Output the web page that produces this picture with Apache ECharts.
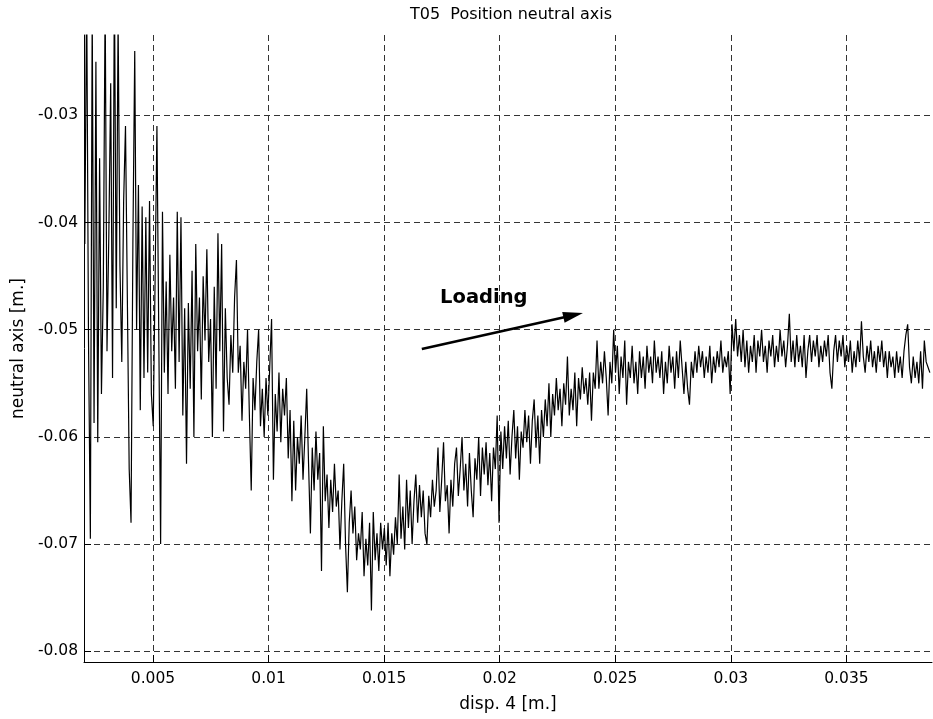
<!DOCTYPE html>
<html>
<head>
<meta charset="utf-8">
<title>T05 Position neutral axis</title>
<script src="https://cdn.jsdelivr.net/npm/echarts@6.0.0/dist/echarts.min.js"></script>
<style>
  html, body { margin: 0; padding: 0; background: #fff; }
  #chart { width: 933px; height: 719px; }
</style>
</head>
<body>
<div id="chart"></div>
<script>
// Displacement of sensor 4 [m]
const disp = [
  0.00205,0.00213,0.00221,0.00229,0.00237,0.00245,0.00253,0.00261,0.00269,0.00277,
  0.00285,0.00293,0.00301,0.00309,0.00317,0.00325,0.00333,0.00341,0.00349,0.00357,
  0.00365,0.00373,0.00381,0.00389,0.00397,0.00405,0.00413,0.00421,0.00429,0.00437,
  0.00445,0.00453,0.00461,0.00469,0.00477,0.00485,0.00493,0.00501,0.00509,0.00517,
  0.00525,0.00533,0.00541,0.00549,0.00557,0.00565,0.00573,0.00581,0.00589,0.00597,
  0.00605,0.00613,0.00621,0.00629,0.00637,0.00645,0.00653,0.00661,0.00669,0.00677,
  0.00685,0.00693,0.00701,0.00709,0.00717,0.00725,0.00733,0.00741,0.00749,0.00757,
  0.00765,0.00773,0.00781,0.00789,0.00797,0.00805,0.00813,0.00821,0.00829,0.00837,
  0.00845,0.00853,0.00861,0.00869,0.00877,0.00885,0.00893,0.00901,0.00909,0.00917,
  0.00925,0.00933,0.00941,0.00949,0.00957,0.00965,0.00973,0.00981,0.00989,0.00997,
  0.01005,0.01013,0.01021,0.01029,0.01037,0.01045,0.01053,0.01061,0.01069,0.01077,
  0.01085,0.01093,0.01101,0.01109,0.01117,0.01125,0.01133,0.01141,0.01149,0.01157,
  0.01165,0.01173,0.01181,0.01189,0.01197,0.01205,0.01213,0.01221,0.01229,0.01237,
  0.01245,0.01253,0.01261,0.01269,0.01277,0.01285,0.01293,0.01301,0.01309,0.01317,
  0.01325,0.01333,0.01341,0.01349,0.01357,0.01365,0.01373,0.01381,0.01389,0.01397,
  0.01405,0.01413,0.01421,0.01429,0.01437,0.01445,0.01453,0.01461,0.01469,0.01477,
  0.01485,0.01493,0.01501,0.01509,0.01517,0.01525,0.01533,0.01541,0.01549,0.01557,
  0.01565,0.01573,0.01581,0.01589,0.01597,0.01605,0.01613,0.01621,0.01629,0.01637,
  0.01645,0.01653,0.01661,0.01669,0.01677,0.01685,0.01693,0.01701,0.01709,0.01717,
  0.01725,0.01733,0.01741,0.01749,0.01757,0.01765,0.01773,0.01781,0.01789,0.01797,
  0.01805,0.01813,0.01821,0.01829,0.01837,0.01845,0.01853,0.01861,0.01869,0.01877,
  0.01885,0.01893,0.01901,0.01909,0.01917,0.01925,0.01933,0.01941,0.01949,0.01957,
  0.01965,0.01973,0.01981,0.01989,0.01997,0.02005,0.02013,0.02021,0.02029,0.02037,
  0.02045,0.02053,0.02061,0.02069,0.02077,0.02085,0.02093,0.02101,0.02109,0.02117,
  0.02125,0.02133,0.02141,0.02149,0.02157,0.02165,0.02173,0.02181,0.02189,0.02197,
  0.02205,0.02213,0.02221,0.02229,0.02237,0.02245,0.02253,0.02261,0.02269,0.02277,
  0.02285,0.02293,0.02301,0.02309,0.02317,0.02325,0.02333,0.02341,0.02349,0.02357,
  0.02365,0.02373,0.02381,0.02389,0.02397,0.02405,0.02413,0.02421,0.02429,0.02437,
  0.02445,0.02453,0.02461,0.02469,0.02477,0.02485,0.02493,0.02501,0.02509,0.02517,
  0.02525,0.02533,0.02541,0.02549,0.02557,0.02565,0.02573,0.02581,0.02589,0.02597,
  0.02605,0.02613,0.02621,0.02629,0.02637,0.02645,0.02653,0.02661,0.02669,0.02677,
  0.02685,0.02693,0.02701,0.02709,0.02717,0.02725,0.02733,0.02741,0.02749,0.02757,
  0.02765,0.02773,0.02781,0.02789,0.02797,0.02805,0.02813,0.02821,0.02829,0.02837,
  0.02845,0.02853,0.02861,0.02869,0.02877,0.02885,0.02893,0.02901,0.02909,0.02917,
  0.02925,0.02933,0.02941,0.02949,0.02957,0.02965,0.02973,0.02981,0.02989,0.02997,
  0.03005,0.03013,0.03021,0.03029,0.03037,0.03045,0.03053,0.03061,0.03069,0.03077,
  0.03085,0.03093,0.03101,0.03109,0.03117,0.03125,0.03133,0.03141,0.03149,0.03157,
  0.03165,0.03173,0.03181,0.03189,0.03197,0.03205,0.03213,0.03221,0.03229,0.03237,
  0.03245,0.03253,0.03261,0.03269,0.03277,0.03285,0.03293,0.03301,0.03309,0.03317,
  0.03325,0.03333,0.03341,0.03349,0.03357,0.03365,0.03373,0.03381,0.03389,0.03397,
  0.03405,0.03413,0.03421,0.03429,0.03437,0.03445,0.03453,0.03461,0.03469,0.03477,
  0.03485,0.03493,0.03501,0.03509,0.03517,0.03525,0.03533,0.03541,0.03549,0.03557,
  0.03565,0.03573,0.03581,0.03589,0.03597,0.03605,0.03613,0.03621,0.03629,0.03637,
  0.03645,0.03653,0.03661,0.03669,0.03677,0.03685,0.03693,0.03701,0.03709,0.03717,
  0.03725,0.03733,0.03741,0.03749,0.03757,0.03765,0.03773,0.03781,0.03789,0.03797,
  0.03805,0.03813,0.03821,0.03829,0.03837,0.03845,0.03853,0.03861
];

// Position of the neutral axis [m] at each displacement step
const neutralAxis = [
  -0.0420,-0.0180,-0.0510,-0.0695,-0.0200,-0.0587,-0.0250,-0.0605,-0.0340,-0.0560,
  -0.0460,-0.0190,-0.0520,-0.0410,-0.0270,-0.0545,-0.0170,-0.0480,-0.0210,-0.0440,
  -0.0530,-0.0380,-0.0310,-0.0470,-0.0630,-0.0680,-0.0420,-0.0240,-0.0500,-0.0365,
  -0.0575,-0.0385,-0.0545,-0.0395,-0.0540,-0.0380,-0.0560,-0.0590,-0.0455,-0.0310,
  -0.0505,-0.0700,-0.0390,-0.0540,-0.0455,-0.0560,-0.0430,-0.0520,-0.0470,-0.0555,
  -0.0390,-0.0530,-0.0395,-0.0580,-0.0480,-0.0625,-0.0475,-0.0555,-0.0445,-0.0600,
  -0.0420,-0.0520,-0.0470,-0.0565,-0.0450,-0.0510,-0.0425,-0.0530,-0.0490,-0.0600,
  -0.0460,-0.0555,-0.0410,-0.0520,-0.0420,-0.0595,-0.0480,-0.0545,-0.0570,-0.0505,
  -0.0540,-0.0470,-0.0435,-0.0540,-0.0515,-0.0585,-0.0530,-0.0555,-0.0500,-0.0580,
  -0.0650,-0.0545,-0.0575,-0.0530,-0.0500,-0.0590,-0.0555,-0.0600,-0.0545,-0.0580,
  -0.0535,-0.0490,-0.0640,-0.0560,-0.0595,-0.0540,-0.0605,-0.0555,-0.0580,-0.0545,
  -0.0620,-0.0575,-0.0660,-0.0585,-0.0650,-0.0600,-0.0625,-0.0580,-0.0640,-0.0600,
  -0.0555,-0.0625,-0.0690,-0.0610,-0.0650,-0.0595,-0.0640,-0.0615,-0.0725,-0.0590,
  -0.0660,-0.0635,-0.0685,-0.0640,-0.0670,-0.0625,-0.0665,-0.0650,-0.0705,-0.0660,
  -0.0625,-0.0700,-0.0745,-0.0680,-0.0650,-0.0690,-0.0665,-0.0715,-0.0690,-0.0705,
  -0.0670,-0.0730,-0.0695,-0.0720,-0.0680,-0.0762,-0.0670,-0.0715,-0.0690,-0.0725,
  -0.0680,-0.0705,-0.0685,-0.0720,-0.0680,-0.0730,-0.0690,-0.0710,-0.0675,-0.0700,
  -0.0635,-0.0695,-0.0665,-0.0705,-0.0640,-0.0685,-0.0650,-0.0700,-0.0660,-0.0635,
  -0.0680,-0.0645,-0.0675,-0.0650,-0.0690,-0.0700,-0.0655,-0.0675,-0.0640,-0.0665,
  -0.0650,-0.0610,-0.0670,-0.0640,-0.0605,-0.0660,-0.0645,-0.0690,-0.0640,-0.0665,
  -0.0625,-0.0610,-0.0655,-0.0630,-0.0600,-0.0650,-0.0625,-0.0665,-0.0615,-0.0650,
  -0.0675,-0.0620,-0.0640,-0.0600,-0.0655,-0.0610,-0.0635,-0.0605,-0.0645,-0.0615,
  -0.0660,-0.0610,-0.0630,-0.0580,-0.0680,-0.0595,-0.0630,-0.0590,-0.0620,-0.0585,
  -0.0635,-0.0600,-0.0575,-0.0620,-0.0590,-0.0640,-0.0595,-0.0610,-0.0575,-0.0605,
  -0.0580,-0.0625,-0.0585,-0.0565,-0.0610,-0.0580,-0.0625,-0.0575,-0.0600,-0.0565,
  -0.0590,-0.0550,-0.0600,-0.0560,-0.0580,-0.0545,-0.0575,-0.0555,-0.0590,-0.0550,
  -0.0570,-0.0525,-0.0580,-0.0555,-0.0575,-0.0540,-0.0590,-0.0545,-0.0565,-0.0535,
  -0.0560,-0.0545,-0.0570,-0.0540,-0.0585,-0.0540,-0.0555,-0.0510,-0.0555,-0.0530,
  -0.0550,-0.0520,-0.0545,-0.0580,-0.0530,-0.0550,-0.0500,-0.0540,-0.0515,-0.0560,
  -0.0525,-0.0545,-0.0510,-0.0570,-0.0530,-0.0545,-0.0515,-0.0550,-0.0530,-0.0560,
  -0.0520,-0.0545,-0.0525,-0.0555,-0.0515,-0.0540,-0.0525,-0.0550,-0.0510,-0.0540,
  -0.0525,-0.0545,-0.0520,-0.0560,-0.0530,-0.0550,-0.0515,-0.0540,-0.0525,-0.0555,
  -0.0520,-0.0545,-0.0510,-0.0535,-0.0560,-0.0530,-0.0555,-0.0570,-0.0530,-0.0545,
  -0.0520,-0.0540,-0.0515,-0.0535,-0.0520,-0.0545,-0.0525,-0.0540,-0.0515,-0.0550,
  -0.0525,-0.0540,-0.0520,-0.0535,-0.0510,-0.0540,-0.0525,-0.0535,-0.0520,-0.0560,
  -0.0495,-0.0520,-0.0490,-0.0525,-0.0505,-0.0530,-0.0500,-0.0535,-0.0510,-0.0540,
  -0.0515,-0.0530,-0.0505,-0.0540,-0.0510,-0.0525,-0.0500,-0.0530,-0.0515,-0.0540,
  -0.0510,-0.0525,-0.0505,-0.0535,-0.0515,-0.0530,-0.0500,-0.0525,-0.0510,-0.0535,
  -0.0515,-0.0485,-0.0530,-0.0510,-0.0535,-0.0505,-0.0530,-0.0515,-0.0535,-0.0505,
  -0.0545,-0.0520,-0.0505,-0.0530,-0.0510,-0.0525,-0.0505,-0.0535,-0.0515,-0.0530,
  -0.0510,-0.0525,-0.0505,-0.0540,-0.0555,-0.0520,-0.0505,-0.0530,-0.0510,-0.0525,
  -0.0505,-0.0535,-0.0515,-0.0530,-0.0510,-0.0540,-0.0520,-0.0535,-0.0510,-0.0530,
  -0.0492,-0.0525,-0.0540,-0.0515,-0.0530,-0.0510,-0.0535,-0.0520,-0.0540,-0.0515,
  -0.0530,-0.0510,-0.0535,-0.0520,-0.0545,-0.0520,-0.0535,-0.0525,-0.0545,-0.0520,
  -0.0540,-0.0525,-0.0545,-0.0520,-0.0505,-0.0495,-0.0535,-0.0550,-0.0525,-0.0545,
  -0.0530,-0.0550,-0.0520,-0.0555,-0.0510,-0.0530,-0.0535,-0.0540
];

// Axis ranges and tick spacing
const xRange = [0.002015, 0.038702];
const yRange = [-0.0810, -0.0225];
const xTickStep = 0.005;
const yTickStep = 0.01;

// "Loading" annotation, in data units
const loadingLabelAt = [0.01742, -0.04705];
const loadingArrowFrom = [0.01663, -0.0518];
const loadingArrowTo = [0.02360, -0.04844];

const seriesData = disp.map((d, i) => [d, neutralAxis[i]]);

const chart = echarts.init(document.getElementById('chart'), null, { renderer: 'canvas' });

const gridDash = { color: '#333', width: 1, type: [6, 4] };

const option = {
  backgroundColor: '#ffffff',
  animation: false,
  title: {
    text: 'T05  Position neutral axis',
    left: 405,
    top: 2,
    textStyle: { fontFamily: 'DejaVu Sans', fontSize: 16, fontWeight: 'normal', color: '#000' }
  },
  grid: { left: 84, right: 1, top: 35, bottom: 57, containLabel: false },
  xAxis: {
    type: 'value',
    min: xRange[0],
    max: xRange[1],
    splitNumber: 7,
    minInterval: xTickStep,
    maxInterval: xTickStep,
    name: 'disp. 4 [m.]',
    nameLocation: 'middle',
    nameGap: 34,
    nameTextStyle: { fontFamily: 'DejaVu Sans', fontSize: 17, color: '#000' },
    axisLine: { show: true, onZero: false, lineStyle: { color: '#000', width: 1 } },
    axisTick: { show: true, inside: true, length: 7, lineStyle: { color: '#000' } },
    axisLabel: {
      showMinLabel: false, showMaxLabel: false, margin: 9,
      fontFamily: 'DejaVu Sans', fontSize: 15.5, color: '#000'
    },
    splitLine: { show: true, showMinLine: false, showMaxLine: false, lineStyle: gridDash }
  },
  yAxis: {
    type: 'value',
    min: yRange[0],
    max: yRange[1],
    splitNumber: 6,
    minInterval: yTickStep,
    maxInterval: yTickStep,
    name: 'neutral axis [m.]',
    nameLocation: 'middle',
    nameGap: 56,
    nameTextStyle: { fontFamily: 'DejaVu Sans', fontSize: 17, color: '#000' },
    axisLine: { show: true, onZero: false, lineStyle: { color: '#000', width: 1 } },
    axisTick: { show: true, inside: true, length: 7, lineStyle: { color: '#000' } },
    axisLabel: {
      showMinLabel: false, showMaxLabel: false, margin: 6,
      fontFamily: 'DejaVu Sans', fontSize: 15.5, color: '#000'
    },
    splitLine: { show: true, showMinLine: false, showMaxLine: false, lineStyle: gridDash }
  },
  series: [{
    name: 'neutral axis',
    type: 'line',
    data: seriesData,
    showSymbol: false,
    symbol: 'none',
    clip: true,
    sampling: null,
    lineStyle: { color: '#000', width: 1.2 }
  }]
};

chart.setOption(option);

// Annotation: bold label with an arrow pointing along the loading direction
function drawAnnotation() {
  const p0 = chart.convertToPixel({ gridIndex: 0 }, loadingArrowFrom);
  const p1 = chart.convertToPixel({ gridIndex: 0 }, loadingArrowTo);
  const pl = chart.convertToPixel({ gridIndex: 0 }, loadingLabelAt);
  const dx = p1[0] - p0[0], dy = p1[1] - p0[1];
  const len = Math.sqrt(dx * dx + dy * dy);
  const ux = dx / len, uy = dy / len;
  const headLen = 20, headHalf = 5.5;
  const bx = p1[0] - ux * headLen, by = p1[1] - uy * headLen;
  chart.setOption({
    graphic: [
      {
        type: 'line',
        shape: { x1: p0[0], y1: p0[1], x2: bx + ux * 2, y2: by + uy * 2 },
        style: { stroke: '#000', lineWidth: 2.6 },
        z: 100
      },
      {
        type: 'polygon',
        shape: { points: [
          [p1[0], p1[1]],
          [bx - uy * headHalf, by + ux * headHalf],
          [bx + uy * headHalf, by - ux * headHalf]
        ] },
        style: { fill: '#000' },
        z: 100
      },
      {
        type: 'text',
        x: pl[0],
        y: pl[1],
        style: {
          text: 'Loading',
          font: 'bold 19.5px "DejaVu Sans"',
          fill: '#000',
          verticalAlign: 'middle',
          align: 'left'
        },
        z: 100
      }
    ]
  });
}
drawAnnotation();
</script>
</body>
</html>
